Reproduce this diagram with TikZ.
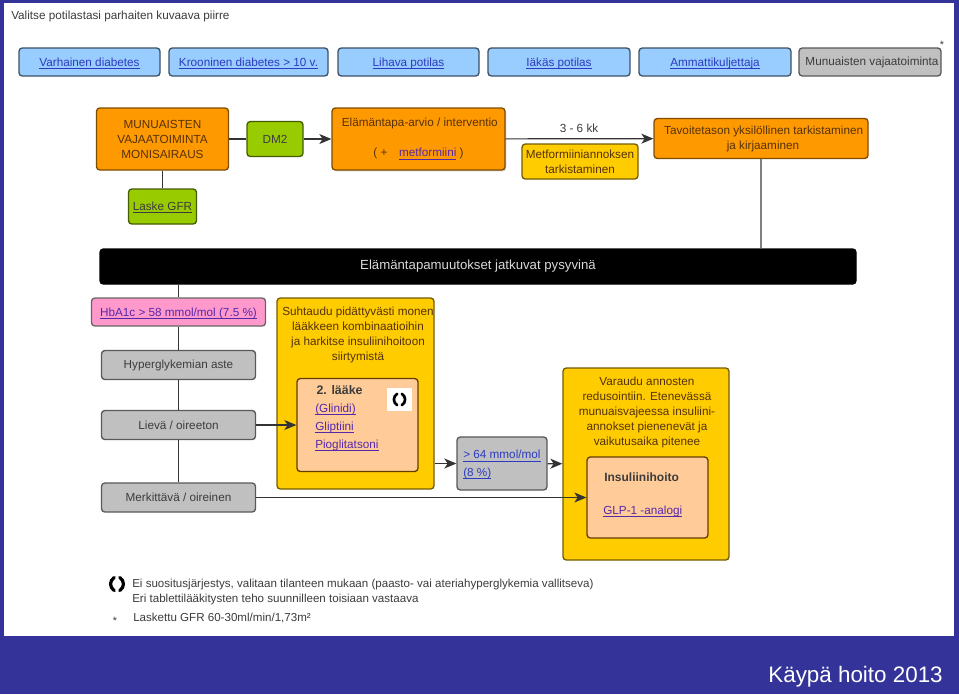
\documentclass[tikz,border=0pt]{standalone}
\usepackage{fontspec}
\setmainfont{Liberation Sans}
\usetikzlibrary{arrows.meta,shadows}
\definecolor{bluebg}{RGB}{51,51,153}
\definecolor{linkblue}{RGB}{45,60,190}
\definecolor{linkviolet}{RGB}{85,40,170}
\definecolor{skyfill}{RGB}{153,204,255}
\definecolor{orangefill}{RGB}{255,153,0}
\definecolor{greenfill}{RGB}{153,204,0}
\definecolor{yellowfill}{RGB}{255,204,0}
\definecolor{peachfill}{RGB}{255,204,153}
\definecolor{greyfill}{RGB}{192,192,192}
\definecolor{pinkfill}{RGB}{255,153,204}
\definecolor{inkdark}{RGB}{60,60,60}
\definecolor{inkbrown}{RGB}{85,50,10}
\newcommand{\viiva}[1]{\setbox0=\hbox{#1}\leavevmode\rlap{\vrule width\wd0 height-1.3pt depth1.85pt}\rule[-2pt]{0pt}{10pt}\box0}
\newcommand{\lnk}[1]{\textcolor{linkblue}{\viiva{#1}}}
\newcommand{\vlnk}[1]{\textcolor{linkviolet}{\viiva{#1}}}
\tikzset{
  sz/.style 2 args={minimum width=#1*0.75pt,minimum height=#2*0.75pt},
  plain/.style={inner sep=0pt,font=\fontsize{8.8}{11.25}\selectfont,align=center},
  box/.style={plain,draw=#1,rounded corners=2.5pt,line width=1pt},
  skybox/.style={box=black!50!skyfill!80!black,fill=skyfill},
  orangebox/.style={box=orangefill!50!black,fill=orangefill,text=inkbrown},
  greenbox/.style={box=greenfill!45!black,fill=greenfill,text=inkdark},
  yellowbox/.style={box=yellowfill!45!black,fill=yellowfill,text=inkbrown},
  peachbox/.style={box=orangefill!40!black,fill=peachfill},
  greybox/.style={box=black!65,fill=greyfill,text=inkdark},
  conn/.style={black!80,line width=0.9pt},
  arr/.style={conn,-{Stealth[length=9pt,width=7.5pt,inset=2.5pt]}},
  kierto/.pic={
    \draw[black,line width=#1,line cap=round] (-2.5,-6) .. controls (-7,-3) and (-7,3) .. (-2.5,6);
    \draw[black,line width=#1,line cap=round] (2.5,6) .. controls (7,3) and (7,-3) .. (2.5,-6);
  }
}
\begin{document}
\begin{tikzpicture}[x=0.75pt,y=-0.75pt]
  \useasboundingbox (0,0) rectangle (959,694);
  \fill[bluebg] (0,0) rectangle (959,694);
  \fill[white] (4,3) rectangle (954,636);
  \node[plain,text=inkdark,anchor=west] (otsikko) at (11,16) {Valitse potilastasi parhaiten kuvaava piirre};

  % top row
  \foreach \n/\x/\w/\t in {
    varhainen/89.5/141/Varhainen diabetes,
    krooninen/248.5/159/Krooninen diabetes > 10 v.,
    lihava/408.5/141/Lihava potilas,
    iakas/559/142/Iäkäs potilas,
    ammatti/715/152/Ammattikuljettaja}
  {
    \node[skybox,sz={\w}{28}] (\n) at (\x,62) {\lnk{\t}};
  }
  \node[greybox,sz={142}{28}] (vajaa) at (870,62) {\hspace{3pt}Munuaisten vajaatoiminta};
  \node[plain,text=inkdark,font=\footnotesize] (tahti) at (942,45) {*};

  % first row
  \node[orangebox,sz={132}{62}] (munuaiset) at (162.5,139) {MUNUAISTEN\\VAJAATOIMINTA\\MONISAIRAUS};
  \node[greenbox,sz={56}{35}] (dm) at (275,139) {DM2};
  \node[greenbox,sz={68}{35}] (gfrlaske) at (162.5,206.5) {\textcolor{inkdark}{\viiva{Laske GFR}}};
  \node[orangebox,sz={173}{62},drop shadow={opacity=.35,shadow xshift=1pt,shadow yshift=-1pt}] (arvio) at (418.5,139) {\hspace{2pt}Elämäntapa-arvio / interventio\\ \\( +\quad\vlnk{metformiini} )\hspace{8pt}};
  \node[orangebox,sz={214}{40}] (tavoite) at (761,138.5) {\hspace{4pt}Tavoitetason yksilöllinen tarkistaminen\\\hspace{3pt}ja kirjaaminen};
  \node[yellowbox,sz={116}{35}] (annos) at (580,161.5) {Metformiiniannoksen\\tarkistaminen};
  \node[plain,text=inkdark] (kk) at (579,128) {3 - 6 kk};
  \node[box=black,fill=black,text=white!85!black,font=\fontsize{9.9}{12}\selectfont,sz={756}{35}] (palkki) at (478,266.5) {Elämäntapamuutokset jatkuvat pysyvinä};

  % left column
  \node[box=black!60,fill=pinkfill,sz={174}{28}] (hba) at (178.5,312) {\vlnk{HbA1c > 58 mmol/mol (7.5 \%)}};
  \node[greybox,sz={154}{29}] (aste) at (178.5,365) {Hyperglykemian aste};
  \node[greybox,sz={154}{29}] (lieva) at (178.5,425) {Lievä / oireeton};
  \node[greybox,sz={154}{29}] (merkittava) at (178.5,497.5) {Merkittävä / oireinen};

  % yellow panels
  \node[yellowbox,sz={157}{191}] (suhtaudu) at (355.5,393.5) {};
  \node[plain,text=inkbrown,anchor=north] (suhtaudutxt) at (358,307) {Suhtaudu pidättyvästi monen\\lääkkeen kombinaatioihin\\ja harkitse insuliinihoitoon\\siirtymistä};
  \node[peachbox,sz={121}{93}] (laake) at (357.5,425) {};
  \node[plain,align=left,anchor=north west,font=\fontsize{8.8}{13.6}\selectfont] (laaketxt) at (315,385) {\hspace{1pt}\textcolor{inkdark}{\fontsize{9.3}{13.6}\selectfont\textbf{2. lääke}}\\\vlnk{(Glinidi)}\\\vlnk{Gliptiini}\\\vlnk{Pioglitatsoni}};
  \node[fill=white,inner sep=0pt,sz={25}{23}] (kuvake) at (399.5,399.5) {};
  \pic[scale=0.95] at (kuvake) {kierto=2pt};

  \node[greybox,sz={90}{53}] (rajagfr) at (502,463.5) {};
  \node[plain,align=left,anchor=west,font=\fontsize{8.8}{12.8}\selectfont] (rajatxt) at (463,463.5) {\lnk{> 64 mmol/mol}\\\lnk{(8 \%)}};

  \node[yellowbox,sz={166}{192}] (varaudu) at (646,464) {};
  \node[plain,text=inkbrown,anchor=north] (varaudutxt) at (647,377) {Varaudu annosten\\redusointiin. Etenevässä\\munuaisvajeessa insuliini-\\annokset pienenevät ja\\vaikutusaika pitenee};
  \node[peachbox,sz={121}{81}] (insuliini) at (647.5,497.5) {};
  \node[plain,anchor=west,text=inkdark] (insuliinitxt) at (604,477) {\fontsize{9}{11}\selectfont\textbf{Insuliinihoito}};
  \node[plain,anchor=west] (glp) at (603,510) {\vlnk{GLP-1 -analogi}};

  % connectors
  \draw[conn] (munuaiset) -- (dm);
  \draw[arr] (dm) -- (arvio);
  \draw[conn] (munuaiset) -- (gfrlaske);
  \draw[arr] (arvio) -- (tavoite);
  \draw[black!50,line width=1.2pt] (tavoite) -- (tavoite |- palkki.north);
  \draw[conn] (hba |- palkki.south) -- (hba.north);
  \draw[conn] (hba.south) -- (aste.north);
  \draw[conn] (aste) -- (lieva);
  \draw[conn] (lieva) -- (merkittava);
  \draw[arr] (lieva) -- (laake);
  \draw[arr] (suhtaudu.east |- rajagfr) -- (rajagfr);
  \draw[arr] (rajagfr) -- (varaudu);
  \draw[arr] (merkittava) -- (insuliini);

  % legend
  \pic[scale=1.1] at (117,584) {kierto=2.4pt};
  \node[plain,align=left,anchor=north west,text=inkdark,font=\fontsize{8.68}{11.25}\selectfont] (selite) at (132,578.5) {Ei suositusjärjestys, valitaan tilanteen mukaan (paasto- vai ateriahyperglykemia vallitseva)\\Eri tablettilääkitysten teho suunnilleen toisiaan vastaava};
  \node[plain,text=inkdark,font=\footnotesize] (tahti2) at (115,621) {*};
  \node[plain,text=inkdark,anchor=west,font=\fontsize{8.68}{11.25}\selectfont] (laskettu) at (133,618) {Laskettu GFR 60-30ml/min/1,73m²};
  \node[plain,text=white,anchor=east,font=\fontsize{16.8}{20}\selectfont] (lahde) at (943,677) {Käypä hoito 2013};
\end{tikzpicture}
\end{document}
